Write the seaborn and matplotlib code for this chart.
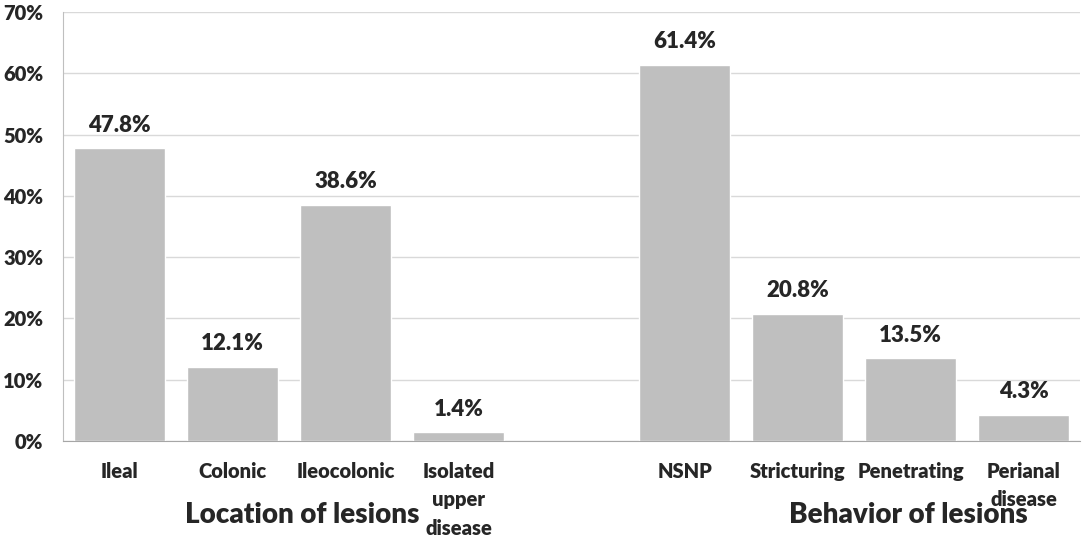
import pandas as pd
import matplotlib.pyplot as plt
import seaborn as sns

# values
categories = ['Ileal', 'Colonic', 'Ileocolonic', 'Isolated\nupper\ndisease',
              'NSNP', 'Stricturing', 'Penetrating', 'Perianal\ndisease']
percentages = [47.8, 12.1, 38.6, 1.4, 61.4, 20.8, 13.5, 4.3]
group_names = ['Location of lesions', 'Behavior of lesions']
y_ticks = [0, 10, 20, 30, 40, 50, 60, 70]

gap = ' '
order = categories[:4] + [gap] + categories[4:]
df = pd.DataFrame({'category': categories, 'pct': percentages})

sns.set_style('white')
plt.rcParams['font.family'] = ['Lato', 'DejaVu Sans']
W = 'heavy'

fig = plt.figure(figsize=(10.84, 5.53), dpi=100)
ax = fig.add_axes([0.058, 0.2025, 0.9385, 0.7755])

sns.barplot(data=df, x='category', y='pct', order=order, color='#BFBFBF',
            saturation=1, width=0.8, ax=ax)

ax.set_ylim(0, 70)
ax.set_xlim(-0.5, len(order) - 0.5)
ax.set_yticks(y_ticks)
ax.set_yticklabels([f'{t}%' for t in y_ticks], fontsize=14.5, fontweight=W)
ax.yaxis.grid(True, color='#D9D9D9', linewidth=1)
ax.set_axisbelow(True)
ax.tick_params(axis='both', length=0)
ax.tick_params(axis='x', pad=15, labelsize=14.5)
ax.tick_params(axis='y', pad=14)
for lab in ax.get_xticklabels():
    lab.set_fontweight(W)
    lab.set_linespacing(1.6)
    lab.set_verticalalignment('top')
ax.set_xlabel('')
ax.set_ylabel('')

for s in ['top', 'right']:
    ax.spines[s].set_visible(False)
ax.spines['left'].set_color('#BFBFBF')
ax.spines['bottom'].set_color('#A6A6A6')

for cont in ax.containers:
    ax.bar_label(cont, labels=[f'{v:.1f}%' for v in cont.datavalues],
                 padding=9, fontsize=16, fontweight=W)

# group captions below the tick labels
fig.text(0.279, 0.068, group_names[0], ha='center', va='center',
         fontsize=20, fontweight=W)
fig.text(0.838, 0.068, group_names[1], ha='center', va='center',
         fontsize=20, fontweight=W)

fig.savefig('out.png', dpi=100)
